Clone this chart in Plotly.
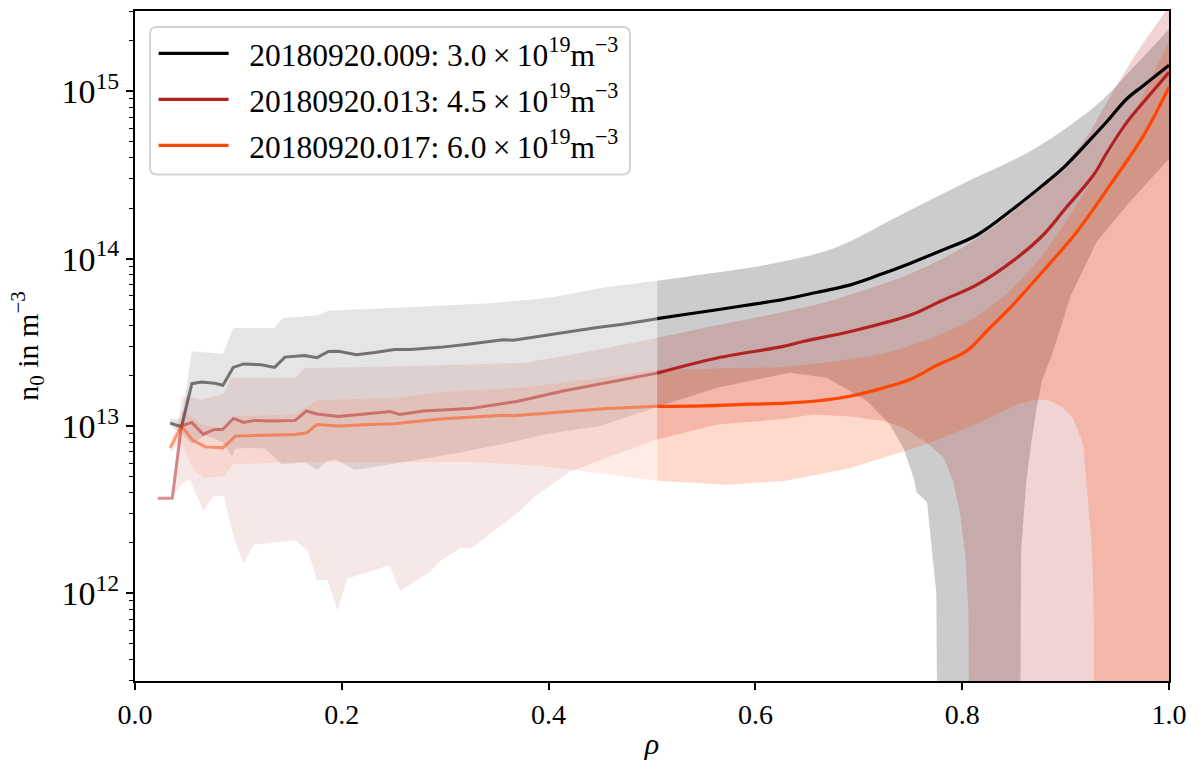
import plotly.graph_objects as go

SPLIT = 0.505      # rho where the profiles switch from faint to full colour
FLOOR = 1e10       # stands in for non-positive lower bounds on the log axis

# ---------------- 20180920.009 ----------------
rho_009_mean = [0.034, 0.045, 0.055, 0.064, 0.077, 0.085, 0.095, 0.105, 0.122, 0.135, 0.145, 0.164, 0.176, 0.187,
                0.197, 0.214, 0.232, 0.251, 0.266, 0.295, 0.324, 0.356, 0.366, 0.385, 0.414, 0.447, 0.472, 0.505,
                0.53, 0.563, 0.6, 0.627, 0.66, 0.692, 0.72, 0.75, 0.78, 0.814, 0.85, 0.878, 0.9, 0.927, 0.94,
                0.959, 0.975, 1.0]
n_009_mean = [1.04e13, 0.99e13, 1.79e13, 1.83e13, 1.80e13, 1.75e13, 2.24e13, 2.35e13, 2.32e13, 2.24e13, 2.58e13,
              2.64e13, 2.56e13, 2.79e13, 2.80e13, 2.67e13, 2.75e13, 2.86e13, 2.86e13, 2.95e13, 3.09e13, 3.28e13,
              3.25e13, 3.39e13, 3.59e13, 3.88e13, 4.06e13, 4.38e13, 4.62e13, 4.95e13, 5.37e13, 5.7e13, 6.3e13,
              6.97e13, 8.0e13, 9.4e13, 1.12e14, 1.38e14, 2.0e14, 2.75e14, 3.6e14, 5.4e14, 6.6e14, 9.0e14,
              1.08e15, 1.43e15]
rho_009_up = [0.034, 0.045, 0.055, 0.068, 0.085, 0.095, 0.135, 0.143, 0.176, 0.187, 0.251, 0.279, 0.343, 0.382,
              0.408, 0.453, 0.505, 0.546, 0.611, 0.675, 0.74, 0.804, 0.869, 0.933, 0.966, 1.0]
n_009_up = [1.1e13, 1.1e13, 2.8e13, 2.75e13, 2.7e13, 3.85e13, 3.85e13, 4.42e13, 4.58e13, 4.89e13, 5.06e13, 5.17e13,
            5.42e13, 5.68e13, 5.94e13, 6.72e13, 7.37e13, 8.0e13, 9.2e13, 1.15e14, 1.82e14, 2.87e14, 4.5e14,
            8.6e14, 1.4e15, 2.35e15]
rho_009_lo = [0.034, 0.045, 0.055, 0.068, 0.085, 0.094, 0.097, 0.113, 0.126, 0.142, 0.165, 0.176, 0.186, 0.194,
              0.213, 0.255, 0.268, 0.307, 0.356, 0.40, 0.45, 0.505, 0.563, 0.633, 0.669, 0.708, 0.730, 0.743,
              0.753, 0.756, 0.766, 0.772, 0.775, 0.777, 0.855, 0.857, 0.862, 0.867, 0.872, 0.877, 0.888, 0.905,
              0.93, 0.962, 1.0]
n_009_lo = [1.0e13, 0.9e13, 0.78e13, 0.88e13, 0.8e13, 0.65e13, 0.73e13, 0.74e13, 0.73e13, 0.59e13, 0.605e13,
            0.545e13, 0.62e13, 0.63e13, 0.545e13, 0.605e13, 0.62e13, 0.68e13, 0.78e13, 0.9e13, 1.0e13, 1.3e13,
            1.69e13, 2.08e13, 1.94e13, 1.41e13, 1.02e13, 7.4e12, 4.9e12, 4.0e12, 3.5e12, 1.5e12, 1.0e12, 0, 0,
            1.8e12, 4.7e12, 8.1e12, 1.28e13, 1.85e13, 2.8e13, 6.0e13, 1.26e14, 2.18e14, 3.95e14]

# ---------------- 20180920.013 ----------------
rho_013_mean = [0.022, 0.036, 0.045, 0.055, 0.066, 0.076, 0.085, 0.095, 0.105, 0.116, 0.135, 0.155, 0.166, 0.176,
                0.197, 0.226, 0.247, 0.256, 0.279, 0.324, 0.369, 0.414, 0.456, 0.505, 0.563, 0.627, 0.646, 0.692,
                0.75, 0.78, 0.814, 0.85, 0.878, 0.9, 0.927, 0.94, 0.959, 0.98, 1.0]
n_013_mean = [3.7e12, 3.7e12, 1.0e13, 1.05e13, 8.9e12, 9.5e12, 9.55e12, 1.11e13, 1.05e13, 1.08e13, 1.07e13,
              1.08e13, 1.23e13, 1.18e13, 1.14e13, 1.18e13, 1.22e13, 1.17e13, 1.23e13, 1.27e13, 1.40e13, 1.62e13,
              1.81e13, 2.07e13, 2.55e13, 2.99e13, 3.2e13, 3.67e13, 4.6e13, 5.6e13, 6.97e13, 9.8e13, 1.38e14,
              2.0e14, 3.16e14, 4.3e14, 6.5e14, 9.3e14, 1.3e15]
rho_013_up = [0.022, 0.036, 0.045, 0.064, 0.085, 0.093, 0.155, 0.164, 0.251, 0.376, 0.44, 0.505, 0.563, 0.627,
              0.669, 0.692, 0.745, 0.804, 0.869, 0.917, 0.94, 0.966, 1.0]
n_013_up = [3.7e12, 3.7e12, 1.51e13, 1.44e13, 1.55e13, 1.94e13, 1.94e13, 2.22e13, 2.27e13, 2.38e13, 2.8e13,
            3.36e13, 4.0e13, 4.8e13, 5.5e13, 6.1e13, 7.9e13, 1.2e14, 2.4e14, 5.0e14, 8.6e14, 1.6e15, 3.2e15]
rho_013_lo = [0.022, 0.036, 0.045, 0.053, 0.066, 0.076, 0.086, 0.095, 0.105, 0.115, 0.155, 0.167, 0.176, 0.186,
              0.196, 0.205, 0.246, 0.256, 0.285, 0.296, 0.315, 0.325, 0.375, 0.387, 0.42, 0.46, 0.505, 0.563,
              0.627, 0.656, 0.692, 0.724, 0.743, 0.766, 0.782, 0.791, 0.798, 0.803, 0.806, 0.808, 1.0]
n_013_lo = [3.7e12, 3.7e12, 4.5e12, 4.8e12, 3.1e12, 3.8e12, 3.8e12, 2.2e12, 1.5e12, 1.96e12, 2.07e12, 1.8e12,
            1.2e12, 1.2e12, 7.9e11, 1.22e12, 1.47e12, 1.03e12, 1.34e12, 1.57e12, 1.87e12, 1.85e12, 3.2e12,
            3.8e12, 5.3e12, 6.6e12, 8.3e12, 1.02e13, 1.1e13, 1.17e13, 1.14e13, 1.07e13, 9.8e12, 7.9e12, 6.5e12,
            4.7e12, 3.0e12, 1.7e12, 8e11, 0, 0]

# ---------------- 20180920.017 ----------------
rho_017_mean = [0.034, 0.045, 0.056, 0.068, 0.085, 0.097, 0.155, 0.166, 0.176, 0.197, 0.226, 0.251, 0.295, 0.356,
                0.366, 0.408, 0.456, 0.505, 0.55, 0.595, 0.63, 0.659, 0.692, 0.724, 0.75, 0.775, 0.804, 0.825,
                0.846, 0.878, 0.911, 0.943, 0.975, 1.0]
n_017_mean = [7.4e12, 1.0e13, 8.2e12, 7.5e12, 7.4e12, 8.7e12, 8.9e12, 9.1e12, 1.02e13, 1.0e13, 1.02e13, 1.03e13,
              1.1e13, 1.16e13, 1.15e13, 1.2e13, 1.27e13, 1.31e13, 1.32e13, 1.35e13, 1.37e13, 1.41e13, 1.51e13,
              1.69e13, 1.9e13, 2.3e13, 2.8e13, 3.76e13, 5.06e13, 8.4e13, 1.45e14, 2.75e14, 5.4e14, 1.06e15]
rho_017_up = [0.034, 0.045, 0.056, 0.066, 0.086, 0.097, 0.155, 0.176, 0.25, 0.3, 0.376, 0.44, 0.505, 0.56, 0.632,
              0.68, 0.732, 0.799, 0.83, 0.85, 0.88, 0.927, 0.959, 0.98, 1.0]
n_017_up = [7.8e12, 1.25e13, 1.12e13, 1.01e13, 9.8e12, 1.15e13, 1.17e13, 1.43e13, 1.47e13, 1.6e13, 1.7e13,
            1.9e13, 2.17e13, 2.2e13, 2.27e13, 2.45e13, 2.8e13, 4.0e13, 5.3e13, 6.8e13, 1.1e14, 3.0e14, 6.2e14,
            1.1e15, 2.0e15]
rho_017_lo = [0.034, 0.045, 0.056, 0.066, 0.086, 0.095, 0.155, 0.291, 0.324, 0.388, 0.453, 0.505, 0.572, 0.63,
              0.692, 0.766, 0.82, 0.853, 0.872, 0.885, 0.898, 0.907, 0.917, 0.921, 0.925, 0.927, 0.929, 1.0]
n_017_lo = [7.0e12, 8.0e12, 5.5e12, 4.9e12, 5.0e12, 5.9e12, 6.1e12, 6.05e12, 6.1e12, 5.8e12, 5.2e12, 4.7e12,
            4.45e12, 4.7e12, 5.6e12, 7.8e12, 1.07e13, 1.35e13, 1.44e13, 1.42e13, 1.28e13, 1.12e13, 7.8e12,
            4.0e12, 2.0e12, 1.0e12, 0, 0]

shots = ["20180920.009", "20180920.013", "20180920.017"]
densities = ["3.0", "4.5", "6.0"]
colors_rgb = [(0, 0, 0), (178, 34, 34), (255, 69, 0)]

series = [
    (rho_009_mean, n_009_mean, rho_009_up, n_009_up, rho_009_lo, n_009_lo),
    (rho_013_mean, n_013_mean, rho_013_up, n_013_up, rho_013_lo, n_013_lo),
    (rho_017_mean, n_017_mean, rho_017_up, n_017_up, rho_017_lo, n_017_lo),
]

x_ticks = [0.0, 0.2, 0.4, 0.6, 0.8, 1.0]
y_major = [1e12, 1e13, 1e14, 1e15]
y_major_text = ["10<sup>12</sup>", "10<sup>13</sup>", "10<sup>14</sup>", "10<sup>15</sup>"]


def part(rho, vals, side):
    if side == "L":
        pts = [(r, v) for r, v in zip(rho, vals) if r <= SPLIT + 1e-9]
    else:
        pts = [(r, v) for r, v in zip(rho, vals) if r >= SPLIT - 1e-9]
    return [p[0] for p in pts], [max(p[1], FLOOR) for p in pts]


def rgba(c, a):
    return "rgba(%d,%d,%d,%s)" % (c[0], c[1], c[2], a)


fig = go.Figure()

# bands: lower edge first, then the upper edge filled down to it
for (rm, nm, ru, nu, rl, nl), c in zip(series, colors_rgb):
    for side, a in (("L", 0.1), ("R", 0.2)):
        xl, yl = part(rl, nl, side)
        xu, yu = part(ru, nu, side)
        fig.add_trace(go.Scatter(x=xl, y=yl, mode="lines", line=dict(width=0, color=rgba(c, 0)),
                                 hoverinfo="skip", showlegend=False))
        fig.add_trace(go.Scatter(
            x=xu, y=yu, mode="lines", fill="tonexty", fillcolor=rgba(c, a),
            line=dict(width=0, color=rgba(c, 0), shape="spline" if side == "R" else "linear", smoothing=1.0),
            hoverinfo="skip", showlegend=False))

# mean lines
for (rm, nm, ru, nu, rl, nl), c, shot, dens in zip(series, colors_rgb, shots, densities):
    xL, yL = part(rm, nm, "L")
    fig.add_trace(go.Scatter(x=xL, y=yL, mode="lines", line=dict(color=rgba(c, 0.5), width=3),
                             hoverinfo="skip", showlegend=False))
    xR, yR = part(rm, nm, "R")
    fig.add_trace(go.Scatter(
        x=xR, y=yR, mode="lines", line=dict(color=rgba(c, 1), width=3.2, shape="spline", smoothing=1.0),
        name="\u2002%s: %s\u2009\u00d7\u200910<sup>19</sup>m<sup>\u22123</sup>" % (shot, dens),
        legendgroup=shot))

minor_vals = [m * 10 ** e for e in range(11, 16) for m in range(2, 10)]

# rounded legend frame (paper coordinates)
PLOT_W, PLOT_H = 1034.0, 672.0
bx0, bx1, by0, by1 = 0.0145, 0.4787, 0.756, 0.9762
rx, ry = 7 / PLOT_W, 7 / PLOT_H
frame_path = ("M {a},{t} L {b},{t} Q {x1},{t} {x1},{c} L {x1},{d} Q {x1},{bt} {b},{bt} "
              "L {a},{bt} Q {x0},{bt} {x0},{d} L {x0},{c} Q {x0},{t} {a},{t} Z").format(
    a=bx0 + rx, b=bx1 - rx, t=by1, bt=by0, x0=bx0, x1=bx1, c=by1 - ry, d=by0 + ry)

font = "Liberation Serif"
fig.update_layout(
    width=1199, height=769,
    margin=dict(l=135, r=30, t=9, b=88),
    paper_bgcolor="white", plot_bgcolor="white",
    font=dict(family=font, size=28, color="black"),
    showlegend=True,
    shapes=[dict(type="path", path=frame_path, xref="paper", yref="paper", layer="above",
                 fillcolor="rgba(255,255,255,0.8)", line=dict(color="#d4d4d4", width=2))],
    legend=dict(x=0.018, y=0.977, xanchor="left", yanchor="top",
                bgcolor="rgba(255,255,255,0)", borderwidth=0,
                font=dict(family=font, size=31.5), tracegroupgap=2, itemwidth=70),
    xaxis=dict(range=[0, 1], tickvals=x_ticks, ticktext=["%.1f" % v for v in x_ticks],
               ticks="outside", ticklen=7, tickwidth=1.5, tickcolor="black",
               showline=True, linecolor="black", linewidth=2, mirror=True, showgrid=False, zeroline=False,
               tickfont=dict(size=28),
               title=dict(text="<i>\u03c1</i>", standoff=4, font=dict(size=30))),
    yaxis=dict(type="log", range=[11.476, 15.48], tickvals=y_major, ticktext=y_major_text,
               ticks="outside", ticklen=7, tickwidth=1.5, tickcolor="black",
               minor=dict(tickvals=minor_vals, ticks="outside", ticklen=4, tickwidth=1, tickcolor="black"),
               showline=True, linecolor="black", linewidth=2, mirror=True, showgrid=False, zeroline=False,
               tickfont=dict(size=34),
               title=dict(text="n<sub>0</sub> in m<sup>\u22123</sup>", standoff=14, font=dict(size=30))),
)

fig.write_html("out.html")
